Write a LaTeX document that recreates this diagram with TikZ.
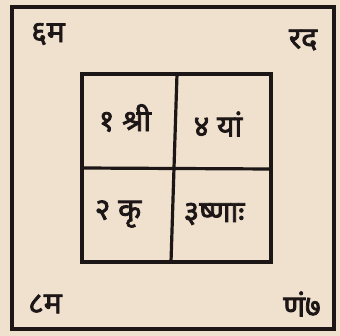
\documentclass[tikz,border=0pt]{standalone}
\usepackage{fontspec}
\newfontfamily\deva[Script=Devanagari,FakeBold=2.5]{Noto Sans}
\definecolor{paper}{RGB}{240,224,206}
\definecolor{ink}{RGB}{28,22,22}
\begin{document}
\begin{tikzpicture}[x=1pt,y=-1pt,
  frame/.style={draw=ink,line width=3.2pt},
  grid/.style={draw=ink,line width=3.2pt},
  lbl/.style={text=ink,font=\deva\fontsize{30}{32}\selectfont,inner sep=0pt}]
\path[fill=paper] (0,0) rectangle (340,336);
\useasboundingbox (0,0) rectangle (340,336);
\draw[frame] (12,7) rectangle (334,329);
\draw[grid] (82,74) rectangle (271,262);
\coordinate (mt) at (177,74);
\coordinate (mb) at (171,262);
\coordinate (ml) at (82,168);
\coordinate (mr) at (271,169);
\draw[grid] (mt) -- (mb);
\draw[grid] (ml) -- (mr);
\node[lbl] (tl) at (48,34) {६म};
\node[lbl] (tr) at (303,40) {रद};
\node[lbl] (bl) at (45,304) {८म};
\node[lbl] (br) at (302,304) {णं७};
\node[lbl] (c1) at (125,118) {१ श्री};
\node[lbl] (c4) at (218,124) {४ यां};
\node[lbl] (c2) at (118,214) {२ कृ};
\node[lbl] (c3) at (214,214) {३ष्णाः};
\end{tikzpicture}
\end{document}
